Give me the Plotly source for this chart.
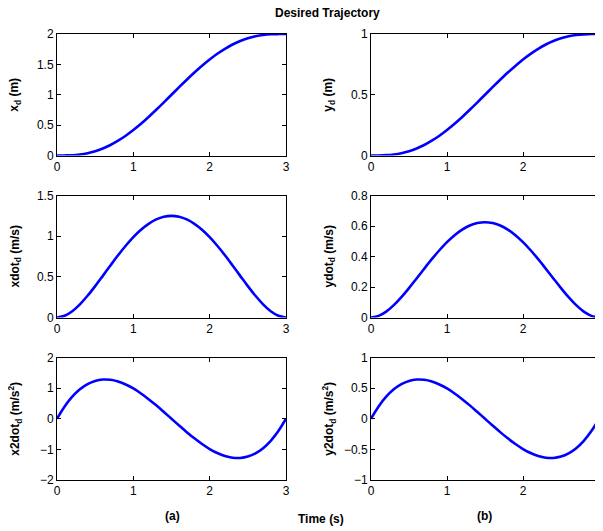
import plotly.graph_objects as go
from plotly.subplots import make_subplots

t = [0.0, 0.1, 0.2, 0.3, 0.4, 0.5, 0.6, 0.7, 0.8, 0.9, 1.0, 1.1, 1.2, 1.3, 1.4, 1.5,
     1.6, 1.7, 1.8, 1.9, 2.0, 2.1, 2.2, 2.3, 2.4, 2.5, 2.6, 2.7, 2.8, 2.9, 3.0]

x_d = [0.0, 0.001, 0.005, 0.017, 0.038, 0.071, 0.116, 0.173, 0.244, 0.326, 0.420,
       0.523, 0.635, 0.753, 0.875, 1.0, 1.125, 1.247, 1.365, 1.477, 1.580, 1.674,
       1.756, 1.827, 1.884, 1.929, 1.962, 1.983, 1.995, 1.999, 2.0]
y_d = [0.0, 0.0004, 0.0027, 0.0086, 0.019, 0.0355, 0.058, 0.0867, 0.122, 0.163, 0.210,
       0.2616, 0.3174, 0.3765, 0.4377, 0.5, 0.5623, 0.6235, 0.6826, 0.737, 0.790, 0.8369,
       0.878, 0.9133, 0.942, 0.9645, 0.9808, 0.9914, 0.9973, 0.9996, 1.0]
xdot_d = [0.0, 0.021, 0.077, 0.162, 0.267, 0.386, 0.512, 0.640, 0.765, 0.882, 0.988,
          1.079, 1.152, 1.206, 1.239, 1.25, 1.239, 1.206, 1.152, 1.079, 0.988, 0.882,
          0.765, 0.640, 0.512, 0.386, 0.267, 0.162, 0.077, 0.021, 0.0]
ydot_d = [0.0, 0.0105, 0.0385, 0.081, 0.1335, 0.193, 0.256, 0.320, 0.3825, 0.441, 0.494,
          0.5395, 0.576, 0.603, 0.6195, 0.625, 0.6195, 0.603, 0.576, 0.5395, 0.494, 0.441,
          0.3825, 0.320, 0.256, 0.193, 0.1335, 0.081, 0.0385, 0.0105, 0.0]
x2dot_d = [0.0, 0.401, 0.719, 0.96, 1.130, 1.235, 1.28, 1.272, 1.217, 1.12, 0.988,
           0.826, 0.64, 0.437, 0.221, 0.0, -0.221, -0.437, -0.64, -0.826, -0.988, -1.12,
           -1.217, -1.272, -1.28, -1.235, -1.130, -0.96, -0.719, -0.401, 0.0]
y2dot_d = [0.0, 0.2005, 0.3595, 0.48, 0.565, 0.6175, 0.64, 0.636, 0.6085, 0.56, 0.494,
           0.413, 0.32, 0.2185, 0.1105, 0.0, -0.1105, -0.2185, -0.32, -0.413, -0.494, -0.56,
           -0.6085, -0.636, -0.64, -0.6175, -0.565, -0.48, -0.3595, -0.2005, 0.0]

series = [x_d, y_d, xdot_d, ydot_d, x2dot_d, y2dot_d]
y_labels = ["<b>x<sub>d</sub> (m)</b>", "<b>y<sub>d</sub> (m)</b>",
            "<b>xdot<sub>d</sub> (m/s)</b>", "<b>ydot<sub>d</sub> (m/s)</b>",
            "<b>x2dot<sub>d</sub> (m/s<sup>2</sup>)</b>", "<b>y2dot<sub>d</sub> (m/s<sup>2</sup>)</b>"]
y_ranges = [[0, 2], [0, 1], [0, 1.5], [0, 0.8], [-2, 2], [-1, 1]]
y_dticks = [0.5, 0.5, 0.5, 0.2, 1, 0.5]

# page has an 8px body margin: figure drawn 8px in from the top-left
OFF = 8
W, H = 603 - OFF, 531 - OFF
col_px = [(57 - OFF, 286 - OFF), (371 - OFF, 599 - OFF)]
row_px = [(34 - OFF, 155.5 - OFF), (195.5 - OFF, 317.5 - OFF), (357.5 - OFF, 480 - OFF)]

fig = make_subplots(rows=3, cols=2)
FONT = "Liberation Sans, Arial, sans-serif"

for i, ys in enumerate(series):
    r, c = i // 2 + 1, i % 2 + 1
    fig.add_trace(go.Scatter(x=t, y=ys, mode="lines", line=dict(color="#0000FF", width=2.6, shape="spline"),
                             showlegend=False, hoverinfo="skip", cliponaxis=False), row=r, col=c)
    x0, x1 = col_px[c - 1]
    ytop, ybot = row_px[r - 1]
    fig.update_xaxes(domain=[x0 / W, x1 / W], range=[0, 3], dtick=1, row=r, col=c)
    fig.update_yaxes(domain=[1 - ybot / H, 1 - ytop / H], range=y_ranges[i], dtick=y_dticks[i], row=r, col=c)
    fig.add_annotation(text=y_labels[i], xref="paper", yref="paper", x=(x0 - 42) / W,
                       y=1 - (ytop + ybot) / 2 / H, textangle=-90, showarrow=False,
                       font=dict(size=12, color="black", family=FONT), xanchor="center", yanchor="middle")

axis_style = dict(showgrid=False, zeroline=False, showline=True, linecolor="black", linewidth=1,
                  mirror="ticks", ticks="inside", ticklen=4, tickcolor="black", automargin=False,
                  ticklabeloverflow="allow",
                  tickfont=dict(size=12, color="black", family=FONT))
fig.update_xaxes(**axis_style)
fig.update_yaxes(**axis_style)

def ann(text, x, y):
    fig.add_annotation(text=text, xref="paper", yref="paper", x=(x - OFF) / W, y=1 - (y - OFF) / H,
                       showarrow=False, font=dict(size=12, color="black", family=FONT),
                       xanchor="center", yanchor="middle")

ann("<b>Desired Trajectory</b>", 327, 12.5)
ann("<b>(a)</b>", 172, 516)
ann("<b>(b)</b>", 484, 516)
ann("<b>Time (s)</b>", 321, 519)

fig.update_layout(width=W, height=H, margin=dict(l=0, r=0, t=0, b=0),
                  plot_bgcolor="white", paper_bgcolor="white", font=dict(family=FONT, color="black"))

fig.write_html("out.html")
